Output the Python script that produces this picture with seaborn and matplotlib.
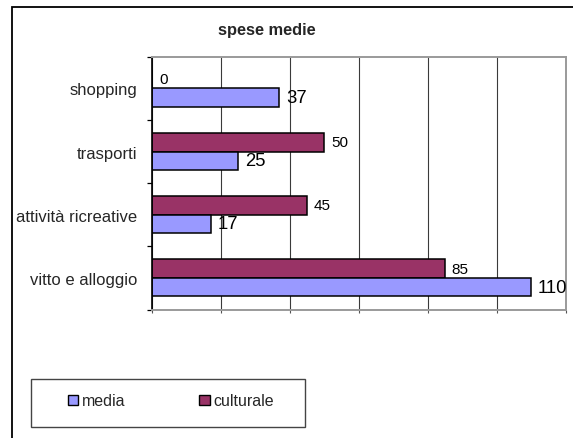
import matplotlib
matplotlib.use("Agg")
import matplotlib.pyplot as plt
from matplotlib.patches import Rectangle, Patch
from matplotlib.ticker import FixedLocator
import seaborn as sns
import pandas as pd

# Spending categories and the two visitor profiles
categories = ["shopping", "trasporti", "attività ricreative", "vitto e alloggio"]
media = [37, 25, 17, 110]
culturale = [0, 50, 45, 85]
series_names = ["culturale", "media"]
legend_order = ["media", "culturale"]
title = "spese medie"

colors = {"media": "#9999FF", "culturale": "#993366"}

df = pd.DataFrame({
    "categoria": categories * 2,
    "valore": culturale + media,
    "serie": ["culturale"] * len(categories) + ["media"] * len(categories),
})

sns.set_style("white")
plt.rcParams["font.family"] = ["Liberation Sans", "DejaVu Sans"]

fig = plt.figure(figsize=(5.73, 4.39), dpi=100)
ax = fig.add_axes([152 / 573, 1 - 310.5 / 439, 413.5 / 573, 252.8 / 439])

sns.barplot(data=df, x="valore", y="categoria", hue="serie", hue_order=series_names,
            order=categories, palette=colors, saturation=1, orient="h", width=0.585,
            edgecolor="black", linewidth=1.1, legend=False, ax=ax)

ax.set_xlim(0, 120)
ax.set_ylim(3.5, -0.5)
ax.set_xlabel("")
ax.set_ylabel("")

# value labels
label_sizes = {"culturale": 11.0, "media": 13.3}
for cont, name in zip(ax.containers, series_names):
    ax.bar_label(cont, fmt="%g", padding=5, fontsize=label_sizes[name], color="black")

# vertical grid lines every 20
ax.set_xticks(range(0, 121, 20))
ax.set_xticklabels([])
ax.xaxis.grid(True, color="#3a3a3a", linewidth=0.8)
ax.set_axisbelow(True)
ax.tick_params(axis="x", length=2, width=0.8, color="#555555", direction="out", bottom=True)

# category ticks between bands
ax.tick_params(axis="y", which="major", length=0, pad=10.8, labelsize=12)
ax.yaxis.set_minor_locator(FixedLocator([-0.5, 0.5, 1.5, 2.5, 3.5]))
ax.tick_params(axis="y", which="minor", length=3.5, width=0.9, color="black", direction="out", left=True)

ax.spines["left"].set_color("black")
ax.spines["left"].set_linewidth(1.2)
for side in ["top", "right", "bottom"]:
    ax.spines[side].set_color("#9a9a9a")
    ax.spines[side].set_linewidth(1.4)

# title
fig.text(267 / 573, 1 - 31 / 439, title, ha="center", va="center",
         fontsize=11.8, fontweight="bold")

# outer chart frame
fig.patches.append(Rectangle((12 / 573, -0.05), 1.0, 1 - 8 / 439 + 0.05,
                             transform=fig.transFigure, fill=False,
                             edgecolor="black", linewidth=1.3))

# legend box and entries
fig.patches.append(Rectangle((31 / 573, 1 - 428 / 439), 274 / 573, 48 / 439,
                             transform=fig.transFigure, fill=False,
                             edgecolor="#444444", linewidth=1.0))
handles = [Patch(facecolor=colors[n], edgecolor="black", linewidth=1.0) for n in legend_order]
fig.legend(handles, legend_order, loc="center left",
           bbox_to_anchor=(68 / 573, 1 - 402 / 439), frameon=False, ncol=2,
           fontsize=11.5, handlelength=0.65, handleheight=0.65,
           handletextpad=0.25, columnspacing=4.6, borderpad=0, borderaxespad=0)

fig.savefig("out.png", dpi=100)
